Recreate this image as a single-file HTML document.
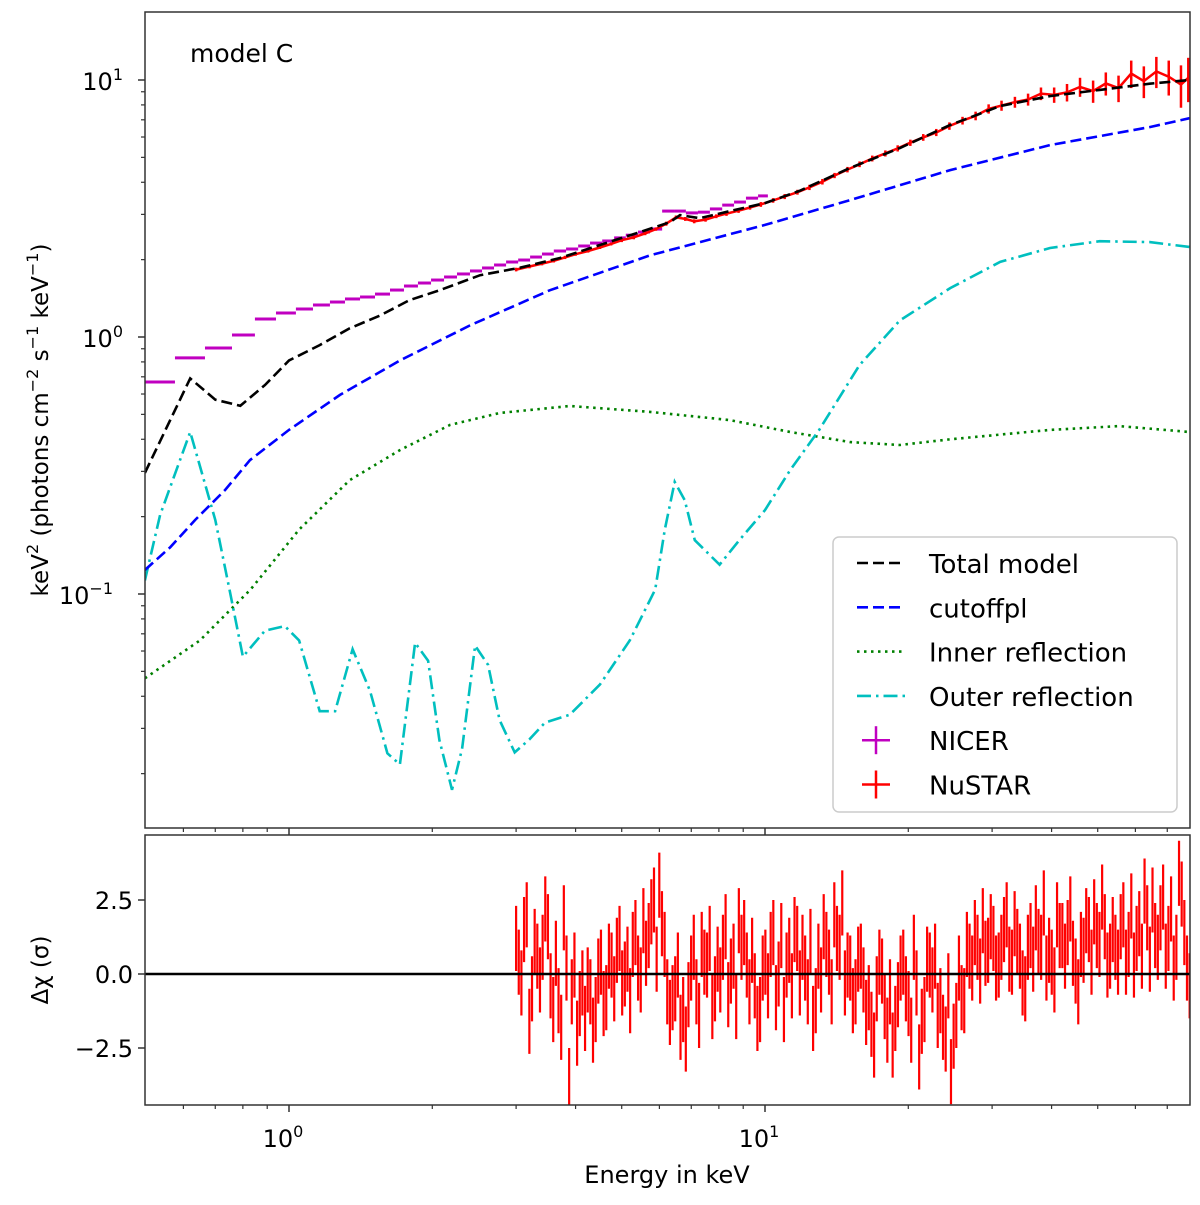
<!DOCTYPE html>
<html><head><meta charset="utf-8"><style>
body{margin:0;background:#fff}
svg text{font-family:"DejaVu Sans","Liberation Sans",sans-serif;fill:#000}
</style></head><body>
<svg id="chart" width="1200" height="1200" viewBox="0 0 1200 1200" xmlns="http://www.w3.org/2000/svg">
<rect x="0" y="0" width="1200" height="1200" fill="#fff"/>
<g id="topPanel"></g>
<g id="botPanel"></g>
<text x="190" y="62" font-size="25">model C</text>
<text transform="translate(48,420) rotate(-90)" text-anchor="middle" font-size="23">keV<tspan dy="-10" font-size="16">2</tspan><tspan dy="10"> (photons cm</tspan><tspan dy="-10" font-size="16">−2</tspan><tspan dy="10"> s</tspan><tspan dy="-10" font-size="16">−1</tspan><tspan dy="10"> keV</tspan><tspan dy="-10" font-size="16">−1</tspan><tspan dy="10">)</tspan></text>
<text transform="translate(48,970) rotate(-90)" text-anchor="middle" font-size="23">Δχ (σ)</text>
<text x="667" y="1183" text-anchor="middle" font-size="24">Energy in keV</text>
<g id="legend"></g>
</svg>
<script>
// ---- data ----
const totalE=[0.498,0.62,0.70,0.79,0.89,1.0,1.16,1.34,1.55,1.79,2.07,2.52,3.06,3.71,4.50,5.46,6.32,6.63,7.3,8.44,10,11.8,15.1,19.2,24.5,31.2,39.7,50.5,64.3,78];
const totalV=[0.296,0.69,0.57,0.54,0.65,0.81,0.93,1.08,1.21,1.39,1.52,1.74,1.86,2.03,2.28,2.56,2.80,2.98,2.90,3.09,3.32,3.70,4.55,5.44,6.68,7.92,8.66,9.15,9.67,10.0];
const cutE=[0.498,0.563,0.635,0.734,0.828,1.0,1.28,1.71,2.40,3.53,5.74,10,15.1,24.5,39.7,64.3,78];
const cutV=[0.124,0.152,0.194,0.254,0.332,0.435,0.595,0.81,1.11,1.52,2.08,2.73,3.41,4.46,5.58,6.56,7.1];
const innE=[0.498,0.65,0.83,1.05,1.34,1.71,2.18,2.77,3.89,5.74,8.44,11.3,15.1,19.2,24.5,39.7,55.5,78];
const innV=[0.047,0.066,0.104,0.178,0.277,0.363,0.455,0.506,0.539,0.511,0.475,0.427,0.39,0.38,0.40,0.435,0.45,0.427];
const outE=[0.498,0.536,0.62,0.70,0.75,0.80,0.89,0.98,1.05,1.16,1.25,1.36,1.48,1.61,1.71,1.84,1.96,2.07,2.20,2.31,2.46,2.62,2.77,2.98,3.20,3.45,3.89,4.50,5.20,5.88,6.16,6.46,6.78,7.12,8.03,8.83,10,11.3,13.0,15.8,19.2,24.5,31.2,39.7,50.5,64.3,78];
const outV=[0.113,0.203,0.427,0.194,0.104,0.057,0.072,0.075,0.066,0.035,0.035,0.061,0.042,0.024,0.0217,0.0646,0.055,0.027,0.0173,0.025,0.063,0.053,0.0323,0.0242,0.0272,0.0316,0.0339,0.0444,0.066,0.104,0.178,0.273,0.232,0.162,0.130,0.162,0.212,0.304,0.435,0.778,1.16,1.55,1.96,2.22,2.36,2.34,2.24];
const nicerEdges=[0.498,0.576,0.666,0.759,0.848,0.939,1.034,1.123,1.219,1.311,1.410,1.516,1.630,1.744,1.866,1.988,2.117,2.254,2.40,2.544,2.696,2.858,3.03,3.21,3.40,3.60,3.82,4.05,4.29,4.55,4.82,5.10,5.41,5.73,6.08,6.44,6.82,7.23,7.66,8.13,8.61,9.12,9.67,10.14];
const nicerV=[0.668,0.829,0.906,1.018,1.175,1.24,1.285,1.332,1.368,1.406,1.431,1.469,1.523,1.579,1.622,1.666,1.712,1.759,1.807,1.856,1.906,1.958,1.993,2.047,2.103,2.161,2.20,2.26,2.32,2.364,2.43,2.49,2.56,2.63,3.09,3.09,3.04,3.06,3.15,3.26,3.35,3.47,3.54];
const nuE=[3.0,3.2,3.4,3.6,3.8,4.0,4.25,4.5,4.75,5.0,5.3,5.6,5.9,6.2,6.5,6.8,7.1,7.5,7.9,8.3,8.8,9.3,9.8,10.4,11.0,11.7,12.4,13.2,14.0,14.9,15.8,16.8,17.9,19.0,20.2,21.5,22.9,24.4,26.0,27.7,29.5,31.4,33.5,35.7,38.0,40.5,43.1,45.9,48.9,52.0,55.3,58.8,62.5,66.4,70.5,74.8,77.5];
const nuV=[1.83,1.88,1.93,1.98,2.04,2.10,2.16,2.23,2.30,2.38,2.44,2.53,2.63,2.76,2.92,2.88,2.82,2.86,2.95,3.02,3.10,3.19,3.28,3.40,3.52,3.66,3.82,4.02,4.25,4.48,4.70,4.95,5.18,5.42,5.70,5.98,6.25,6.62,6.95,7.25,7.72,7.95,8.20,8.40,8.85,8.75,8.95,9.40,9.05,9.70,9.30,10.6,9.9,10.8,10.3,9.6,10.2];
const nuErr=[0.03,0.03,0.03,0.03,0.03,0.03,0.03,0.03,0.03,0.04,0.04,0.04,0.04,0.05,0.05,0.05,0.05,0.05,0.05,0.06,0.06,0.06,0.07,0.07,0.08,0.08,0.09,0.1,0.1,0.11,0.12,0.13,0.14,0.15,0.16,0.18,0.2,0.22,0.24,0.28,0.32,0.36,0.4,0.45,0.5,0.6,0.7,0.8,0.9,1.0,1.1,1.3,1.4,1.5,1.6,1.8,2.0];
const resid=[1.2,-0.3,2.0,-0.5,0.6,0.9,1.6,-1.2,-0.9,1.9,-3.6,0.3,-1.0,
-1.5,-0.6,-1.2,0.4,-0.8,0.3,0.8,-0.3,0.5,1.0,0.2,1.8,1.3,2.5,3.0,1.0,-1.3,
-0.5,-1.8,-2.2,0.2,-0.6,1.0,0.3,-1.1,0.5,0.9,-0.7,0.6,1.8,1.4,-0.6,-0.4,-1.2,
0.4,1.0,-0.8,1.3,0.3,-0.4,1.2,0.9,-0.6,-1.5,0.6,1.6,0.4,2.0,0.9,-0.3,
0.2,-0.6,0.6,-1.3,-1.7,-0.5,0.1,-1.9,-2.4,-0.7,0.4,-1.0,0.9,-2.8,-1.2,0.3,0.6,
-0.9,-2.2,-3.3,-1.4,-0.8,1.0,0.2,0.9,1.8,0.8,1.2,0.3,1.5,0.5,1.7,0.6,-0.5,
1.3,1.9,0.9,0.2,0.4,2.0,1.3,1.4,0.7,-0.6,0.8,1.5,2.1,1.0,1.6,0.6,0.9,
1.6,0.4,2.3,1.2,0.6,1.9,2.5,0.9,2.6,1.2,0.2,3.4,1.4,-0.4];
const resid2=[0.4,1.5,-1.6,1.1,-0.2,2.2,-0.4,0.7,-1.8,0.2,-0.6,-2.0,-0.3,
-0.2,-1.9,0.1,-1.0,0.6,-0.5,1.2,0.0,-0.9,1.4,-0.2,0.7,2.1,0.5,1.7,-0.6,-0.8,
0.3,-1.2,-0.7,0.9,-1.4,0.4,1.2,-0.5,-0.2,1.6,0.1,-1.1,0.9,0.3,0.8,-1.5,0.2,
-0.4,1.4,0.0,-1.2,0.8,1.5,-0.3,0.2,1.1,-0.9,-0.2,1.0,-0.6,1.2,2.4,0.3,
-0.9,0.5,-0.2,-0.8,-2.4,0.4,-1.1,-0.6,-1.5,0.2,-0.5,-1.9,-0.3,-1.6,0.5,-0.2,-1.4,
-1.8,-0.4,-2.1,0.2,-0.9,0.6,1.4,0.1,0.7,1.6,0.2,0.9,2.0,0.4,1.1,-0.3,0.9,
0.5,1.1,2.4,0.8,-0.2,1.3,0.6,2.2,0.1,1.0,1.8,0.4,1.3,2.6,0.3,1.5,0.4,
2.0,1.0,0.3,1.7,2.8,0.5,1.3,1.9,0.6,2.2,0.9,2.7,0.2,1.1];
const residRange=[3.0,78];
const residErr=1.1;
const yTickVals=[0.1,1,10];
const yTickExp=["−1","0","1"];
const rTickVals=[2.5,0,-2.5];
const rTickLabels=["2.5","0.0","−2.5"];
const xTickVals=[1,10];
const xTickExp=["0","1"];
// ---- axes ----
const L=145,R=1190,T=12,B=828,BT=835,BB=1105;
const X=e=>289+476*Math.log10(e);
const Y=v=>337-257*Math.log10(v);
const RY=v=>974-29.6*v;
const NS="http://www.w3.org/2000/svg";
function mk(tag,at,parent){const el=document.createElementNS(NS,tag);for(const k in at)el.setAttribute(k,at[k]);parent.appendChild(el);return el;}
const topPanel=document.getElementById('topPanel'),botPanel=document.getElementById('botPanel'),svg=document.getElementById('chart');
const defs=mk('defs',{},svg);
const cp=mk('clipPath',{id:'cpt'},defs);mk('rect',{x:L,y:T,width:R-L,height:B-T},cp);
const cp2=mk('clipPath',{id:'cpb'},defs);mk('rect',{x:L,y:BT,width:R-L,height:BB-BT},cp2);
const tg=mk('g',{'clip-path':'url(#cpt)'},topPanel);
const bg=mk('g',{'clip-path':'url(#cpb)'},botPanel);
function line(E,V,color,dash,name){
  const p=mk('polyline',{points:E.map((e,i)=>X(e).toFixed(1)+','+Y(V[i]).toFixed(1)).join(' '),fill:'none',stroke:color,'stroke-width':2.6,'stroke-dasharray':dash},tg);
  
  
}
nicerV.forEach((v,i)=>{
  const s=mk('line',{x1:X(nicerEdges[i]),x2:X(nicerEdges[i+1]),y1:Y(v),y2:Y(v),stroke:'#c000c0','stroke-width':3},tg);
  
  
});
nuV.forEach((v,i)=>{
  const b=mk('line',{x1:X(nuE[i]),x2:X(nuE[i]),y1:Y(v+nuErr[i]),y2:Y(Math.max(v-nuErr[i],0.01)),stroke:'#f00','stroke-width':2.5},tg);
  
  
});
const nl=mk('polyline',{points:nuE.map((e,i)=>X(e).toFixed(1)+','+Y(nuV[i]).toFixed(1)).join(' '),fill:'none',stroke:'#f00','stroke-width':2.5},tg);


line(innE,innV,'#008000','2.5 4.5','inner-reflection-line');
line(outE,outV,'#00bfbf','14 5 2.5 5','outer-reflection-line');
line(cutE,cutV,'#0000ff','11 5','cutoffpl-line');
line(totalE,totalV,'#000','11 5','total-model-line');
const n=resid.length,l0=Math.log10(residRange[0]),l1=Math.log10(residRange[1]);
function drawRes(arr,off){
  arr.forEach((v,i)=>{
    const e=Math.pow(10,l0+(l1-l0)*(i+off)/(n-1));
    const b=mk('line',{x1:X(e),x2:X(e),y1:RY(v+residErr),y2:RY(v-residErr),stroke:'#f00','stroke-width':2.2},bg);
    
    
  });
}
drawRes(resid,0);
drawRes(resid2,0.5);
const z=mk('line',{x1:L,x2:R,y1:RY(0),y2:RY(0),stroke:'#000','stroke-width':2.5},botPanel);


const f1=mk('rect',{x:L,y:T,width:R-L,height:B-T,fill:'none',stroke:'#333','stroke-width':1.5},topPanel);

const f2=mk('rect',{x:L,y:BT,width:R-L,height:BB-BT,fill:'none',stroke:'#333','stroke-width':1.5},botPanel);

const minors=[0.6,0.7,0.8,0.9,2,3,4,5,6,7,8,9,20,30,40,50,60,70];
[B,BB].forEach(yb=>{
  minors.forEach(m=>{const t=mk('line',{x1:X(m),x2:X(m),y1:yb,y2:yb+4,stroke:'#333','stroke-width':1.2},svg);});
  xTickVals.forEach(m=>{const t=mk('line',{x1:X(m),x2:X(m),y1:yb,y2:yb+7,stroke:'#333','stroke-width':1.5},svg);});
});
xTickVals.forEach((m,i)=>{
  const t=mk('text',{x:X(m)-6,y:1147,'text-anchor':'middle','font-size':24},svg);
  
  t.textContent='10';const s=mk('tspan',{dy:-10,'font-size':16},t);s.textContent=xTickExp[i];
});
for(let d=-2;d<=1;d++)for(let k=2;k<=9;k++){const v=k*Math.pow(10,d);const yy=Y(v);if(yy<T||yy>B)continue;
  const t=mk('line',{x1:L-4,x2:L,y1:yy,y2:yy,stroke:'#333','stroke-width':1.2},svg);}
yTickVals.forEach((v,i)=>{
  const t=mk('line',{x1:L-7,x2:L,y1:Y(v),y2:Y(v),stroke:'#333','stroke-width':1.5},svg);
  const tx=mk('text',{x:L-12-(yTickExp[i].length>1?20:10),y:Y(v)+10,'text-anchor':'end','font-size':24},svg);
  
  tx.textContent='10';const s=mk('tspan',{dy:-10,'font-size':16},tx);s.textContent=yTickExp[i];
});
rTickVals.forEach((v,i)=>{
  const t=mk('line',{x1:L-7,x2:L,y1:RY(v),y2:RY(v),stroke:'#333','stroke-width':1.5},svg);
  const tx=mk('text',{x:L-12,y:RY(v)+9,'text-anchor':'end','font-size':24},svg);
  
  tx.textContent=rTickLabels[i];
});
const lg=document.getElementById('legend');
const lb=mk('rect',{x:833,y:537,width:344,height:275,rx:6,fill:'#fff',stroke:'#ccc','stroke-width':1.5},lg);

const items=[['Total model','#000','11 5','line'],['cutoffpl','#0000ff','11 5','line'],['Inner reflection','#008000','2.5 4.5','line'],['Outer reflection','#00bfbf','14 5 2.5 5','line'],['NICER','#c000c0','','cross'],['NuSTAR','#f00','','cross']];
items.forEach((it,i)=>{
  const yy=563+i*44.3;
  const g=mk('g',{},lg);
  
  
  if(it[3]==='line'){mk('line',{x1:857,x2:905,y1:yy,y2:yy,stroke:it[1],'stroke-width':2.6,'stroke-dasharray':it[2]},g);}
  else{mk('line',{x1:862,x2:890,y1:yy,y2:yy,stroke:it[1],'stroke-width':2.5},g);mk('line',{x1:876,x2:876,y1:yy-14,y2:yy+14,stroke:it[1],'stroke-width':2.5},g);}
  const t=mk('text',{x:929,y:yy+10,'font-size':26},g);t.textContent=it[0];
});
</script>
</body></html>
